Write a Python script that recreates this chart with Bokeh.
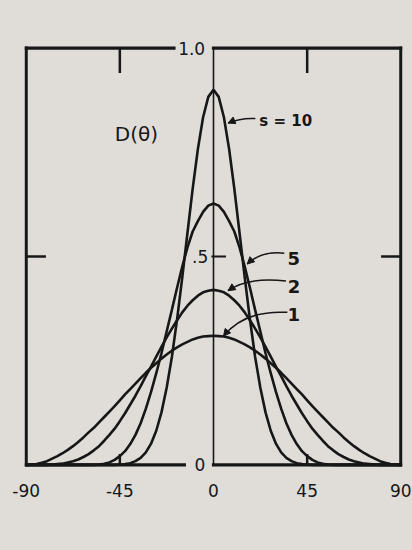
from bokeh.plotting import figure
from bokeh.models import Range1d, FixedTicker, LinearAxis, Arrow, NormalHead, Label
from bokeh.embed import file_html
from bokeh.resources import INLINE

# Directional spreading D(theta) for several spreading parameters s.
# Profiles are symmetric about theta = 0; values listed for theta >= 0.
theta_half = [0, 2.5, 5, 7.5, 10, 12.5, 15, 17.5, 20, 22.5, 25, 27.5, 30, 32.5,
              35, 37.5, 40, 42.5, 45, 47.5, 50, 52.5, 55, 57.5, 60, 62.5, 65,
              67.5, 70, 72.5, 75, 77.5, 80, 82.5, 85, 87.5, 90]

d_s1 = [0.310, 0.309, 0.308, 0.305, 0.301, 0.295, 0.289, 0.282, 0.274, 0.265,
        0.255, 0.244, 0.233, 0.221, 0.208, 0.195, 0.182, 0.169, 0.155, 0.141,
        0.128, 0.115, 0.102, 0.089, 0.078, 0.066, 0.055, 0.045, 0.036, 0.028,
        0.021, 0.015, 0.009, 0.005, 0.002, 0.001, 0.000]

d_s2 = [0.420, 0.418, 0.414, 0.406, 0.395, 0.382, 0.366, 0.347, 0.327, 0.306,
        0.283, 0.260, 0.236, 0.213, 0.189, 0.166, 0.145, 0.124, 0.105, 0.087,
        0.072, 0.058, 0.045, 0.035, 0.026, 0.019, 0.013, 0.009, 0.006, 0.003,
        0.002, 0.001, 0.000, 0.000, 0.000, 0.000, 0.000]

d_s5 = [0.627, 0.622, 0.607, 0.585, 0.560, 0.522, 0.476, 0.425, 0.372, 0.320,
        0.268, 0.220, 0.175, 0.135, 0.100, 0.072, 0.050, 0.033, 0.021, 0.012,
        0.006, 0.003, 0.001, 0.000, 0.000, 0.000, 0.000, 0.000, 0.000, 0.000,
        0.000, 0.000, 0.000, 0.000, 0.000, 0.000, 0.000]

d_s10 = [0.900, 0.883, 0.834, 0.758, 0.663, 0.557, 0.450, 0.349, 0.259, 0.185,
         0.126, 0.082, 0.051, 0.030, 0.017, 0.009, 0.004, 0.002, 0.001, 0.000,
         0.000, 0.000, 0.000, 0.000, 0.000, 0.000, 0.000, 0.000, 0.000, 0.000,
         0.000, 0.000, 0.000, 0.000, 0.000, 0.000, 0.000]

series = [d_s1, d_s2, d_s5, d_s10]
curve_labels = ["1", "2", "5", "s = 10"]

xtick_values = [-90, -45, 0, 45, 90]
xtick_labels = ["-90", "-45", "0", "45", "90"]
ytick_values = [0.0, 0.5, 1.0]
ytick_labels = ["0", ".5", "1.0"]
y_title = "D(θ)"

INK = "#171717"
PAPER = "#e0ddd9"
FONT = "DejaVu Sans"


def mirrored(half):
    return [v for v in reversed(half[1:])] + list(half)


theta = [-t for t in reversed(theta_half[1:])] + theta_half

# The frame reaches a little past the box so labels sitting on its edges show whole
p = figure(width=412, height=550,
           x_range=Range1d(-90.8, 90.8), y_range=Range1d(-0.035, 1.035),
           output_backend="svg", toolbar_location=None,
           x_axis_location=None, y_axis_location=None,
           min_border_left=24, min_border_right=10,
           min_border_top=33, min_border_bottom=71)
p.grid.visible = False
p.outline_line_color = None
# one uniform paper tone behind the whole canvas
p.background_fill_color = None
p.border_fill_color = None
p.styles = {"background-color": PAPER}

# Bottom axis carries only the theta labels
bottom = LinearAxis(ticker=FixedTicker(ticks=xtick_values),
                    major_label_overrides={v: s for v, s in zip(xtick_values, xtick_labels)})
bottom.axis_line_color = None
bottom.major_tick_line_color = None
bottom.minor_tick_line_color = None
bottom.major_tick_in = 0
bottom.major_tick_out = 0
bottom.major_label_text_font = FONT
bottom.major_label_text_font_size = "17px"
bottom.major_label_text_color = INK
bottom.major_label_standoff = 4
p.add_layout(bottom, "below")

# Box, with gaps left in the top and bottom edges for the D labels
p.segment(x0=[-90, 90, -90, 0, -90, 0], y0=[0, 0, 1, 1, 0, 0],
          x1=[-90, 90, -19, 90, -14, 90], y1=[1, 1, 1, 1, 0, 0],
          line_color=INK, line_width=3.2, line_cap="square")

# Inward tick marks: theta = +-45 on bottom and top, D = .5 on both sides
p.segment(x0=[-45, 45, -45, 45, -90, 90], y0=[0, 0, 1, 1, 0.5, 0.5],
          x1=[-45, 45, -45, 45, -80.5, 80.5], y1=[0.026, 0.026, 0.94, 0.94, 0.5, 0.5],
          line_color=INK, line_width=2.5)

# Central D axis with its .5 tick
p.segment(x0=[0, -1], y0=[0, 0.5], x1=[0, 6], y1=[1, 0.5],
          line_color=INK, line_width=[1.6, 2.0])

d_label_x = [-6.5, -2.5, -10.5]
d_label_align = ["center", "right", "center"]
for yv, txt, lx, al in zip(ytick_values, ytick_labels, d_label_x, d_label_align):
    p.add_layout(Label(x=lx, y=yv, text=txt, text_font=FONT,
                       text_font_size="17px", text_color=INK,
                       text_align=al, text_baseline="middle"))
p.add_layout(Label(x=-37, y=0.795, text=y_title, text_font=FONT,
                   text_font_size="20px", text_color=INK,
                   text_align="center", text_baseline="middle"))

# Spreading curves
for d in series:
    p.line(theta, mirrored(d), line_color=INK, line_width=2.6)

# Curve labels with curved leaders ending in small arrowheads
label_pos = [(38.5, 0.361, "center"), (38.7, 0.429, "center"),
             (38.5, 0.496, "center"), (22.0, 0.826, "left")]
leaders = [  # (x0, y0, cx, cy, x1, y1)
    (35.5, 0.366, 15.0, 0.372, 4.8, 0.309),
    (34.8, 0.441, 17.0, 0.452, 7.0, 0.418),
    (34.0, 0.508, 23.0, 0.514, 16.2, 0.482),
    (20.1, 0.831, 13.0, 0.833, 7.0, 0.820),
]
for (lx, ly, align), txt in zip(label_pos, curve_labels):
    p.add_layout(Label(x=lx, y=ly, text=txt, text_font=FONT,
                       text_font_size="18px" if len(txt) == 1 else "15px",
                       text_font_style="bold", text_color=INK,
                       text_align=align, text_baseline="middle"))
for x0, y0, cx, cy, x1, y1 in leaders:
    p.quadratic(x0=[x0], y0=[y0], cx=[cx], cy=[cy], x1=[x1], y1=[y1],
                line_color=INK, line_width=1.5)
    p.add_layout(Arrow(end=NormalHead(size=7, fill_color=INK, line_color=INK),
                       x_start=cx, y_start=cy, x_end=x1, y_end=y1,
                       line_alpha=0))

open("out.html", "w").write(file_html(p, INLINE))
